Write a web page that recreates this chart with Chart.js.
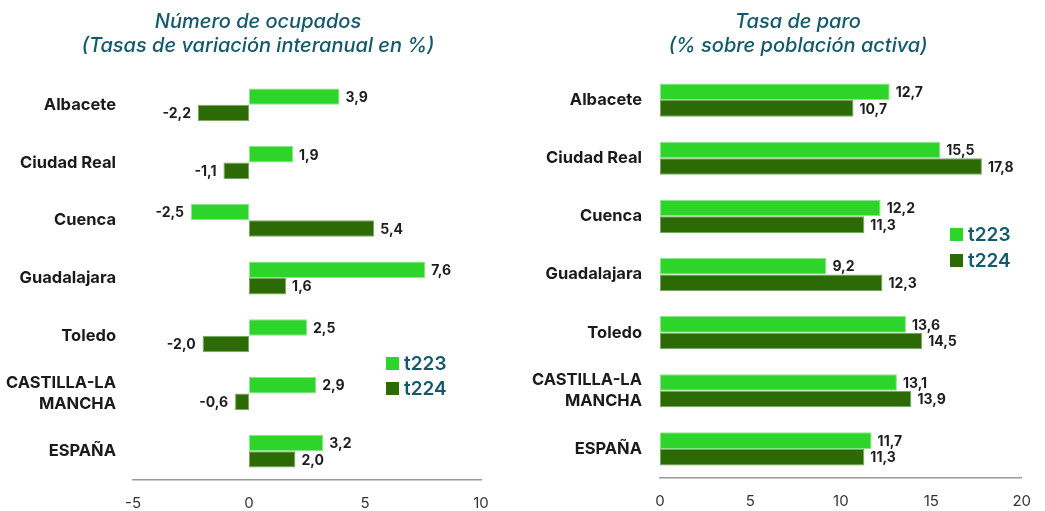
<!DOCTYPE html>
<html>
<head>
<meta charset="utf-8">
<script src="https://cdn.jsdelivr.net/npm/chart.js@4"></script>
<style>
  html, body { margin: 0; padding: 0; background: #fff; }
  #wrap { position: relative; width: 1045px; height: 511px; overflow: hidden; }
  #wrap canvas { position: absolute; top: 0; }
</style>
</head>
<body>
<div id="wrap">
  <canvas id="ocupados" width="520" height="511" style="left:0"></canvas>
  <canvas id="paro" width="525" height="511" style="left:520px"></canvas>
</div>
<script>
// datos
const provincias = ['Albacete', 'Ciudad Real', 'Cuenca', 'Guadalajara', 'Toledo', ['CASTILLA-LA', 'MANCHA'], 'ESPAÑA'];
const trimestres = ['t223', 't224'];

const ocupadosT223 = [3.9, 1.9, -2.5, 7.6, 2.5, 2.9, 3.2];
const ocupadosT224 = [-2.2, -1.1, 5.4, 1.6, -2.0, -0.6, 2.0];
const ocupadosTicks = [-5, 0, 5, 10];

const paroT223 = [12.7, 15.5, 12.2, 9.2, 13.6, 13.1, 11.7];
const paroT224 = [10.7, 17.8, 11.3, 12.3, 14.5, 13.9, 11.3];
const paroTicks = [0, 5, 10, 15, 20];

const VERDE_CLARO = '#2dd42a';
const VERDE_OSCURO = '#2b6a04';
const TEAL = '#11596b';
const FUENTE = 'Inter, "Noto Sans", sans-serif';

// etiquetas de valor junto a cada barra (formato con coma)
const etiquetasValor = {
  id: 'etiquetasValor',
  afterDatasetsDraw(chart) {
    const ctx = chart.ctx;
    ctx.save();
    ctx.font = `bold 14px ${FUENTE}`;
    ctx.fillStyle = '#1e1e1e';
    ctx.textBaseline = 'middle';
    chart.data.datasets.forEach((ds, i) => {
      const meta = chart.getDatasetMeta(i);
      meta.data.forEach((bar, j) => {
        const v = ds.data[j];
        const txt = v.toFixed(1).replace('.', ',');
        if (v >= 0) {
          ctx.textAlign = 'left';
          ctx.fillText(txt, bar.x + 6, bar.y + 1);
        } else {
          ctx.textAlign = 'right';
          ctx.fillText(txt, bar.x - 7, bar.y + 1);
        }
      });
    });
    ctx.restore();
  }
};

// leyenda propia dentro del área del gráfico
const leyendaCaja = {
  id: 'leyendaCaja',
  afterDraw(chart, args, opts) {
    const ctx = chart.ctx;
    ctx.save();
    ctx.font = `600 19px ${FUENTE}`;
    ctx.textBaseline = 'middle';
    ctx.textAlign = 'left';
    chart.data.datasets.forEach((ds, i) => {
      const y = opts.y + i * opts.gap;
      ctx.fillStyle = ds.backgroundColor;
      ctx.fillRect(opts.x, y - 6, 13, 13);
      ctx.fillStyle = TEAL;
      ctx.fillText(ds.label, opts.x + 18, y + 1);
    });
    ctx.restore();
  }
};

// título en dos líneas, centrado donde queremos (el de Chart.js recorta las etiquetas)
const tituloCentrado = {
  id: 'tituloCentrado',
  afterDraw(chart, args, opts) {
    const ctx = chart.ctx;
    ctx.save();
    ctx.font = `italic 500 20px ${FUENTE}`;
    ctx.fillStyle = TEAL;
    ctx.textAlign = 'center';
    ctx.textBaseline = 'middle';
    opts.lineas.forEach((t, i) => ctx.fillText(t, opts.cx, opts.y + i * 24));
    ctx.restore();
  }
};

function crearGrafico(id, titulo, serieA, serieB, ticks, cfg) {
  new Chart(document.getElementById(id), {
    type: 'bar',
    data: {
      labels: provincias,
      datasets: [
        { label: trimestres[0], data: serieA, backgroundColor: VERDE_CLARO, borderColor: '#8ee58a', borderWidth: 1, borderSkipped: false },
        { label: trimestres[1], data: serieB, backgroundColor: VERDE_OSCURO, borderColor: '#78a860', borderWidth: 1, borderSkipped: false }
      ]
    },
    options: {
      indexAxis: 'y',
      responsive: false,
      animation: false,
      layout: { padding: { left: 0, top: cfg.padTop, right: cfg.padRight } },
      datasets: { bar: { barPercentage: 1, categoryPercentage: 0.57 } },
      scales: {
        x: {
          min: ticks[0],
          max: ticks[ticks.length - 1],
          afterBuildTicks: axis => { axis.ticks = ticks.map(v => ({ value: v })); },
          afterFit: axis => { axis.height = cfg.xHeight; },
          grid: { display: false, drawTicks: false },
          border: { display: true, color: '#9a9a9a', width: 1.5 },
          ticks: { color: '#333', padding: 14, font: { family: FUENTE, size: 15 } }
        },
        y: {
          afterFit: axis => { axis.width = cfg.yWidth; },
          grid: { display: false, drawTicks: false },
          border: { display: false },
          ticks: { color: '#1a1a1a', padding: cfg.yPad, font: { family: FUENTE, size: 16.5, weight: 'bold', lineHeight: 1.3 } }
        }
      },
      plugins: {
        legend: { display: false },
        tooltip: { enabled: false },
        title: { display: false },
        tituloCentrado: { lineas: titulo, cx: cfg.tituloX, y: 22 },
        leyendaCaja: cfg.leyenda
      }
    },
    plugins: [etiquetasValor, leyendaCaja, tituloCentrado]
  });
}

crearGrafico('ocupados', ['Número de ocupados', '(Tasas de variación interanual en %)'],
  ocupadosT223, ocupadosT224, ocupadosTicks,
  { yWidth: 133, yPad: 17, xHeight: 31, padTop: 76, padRight: 39, tituloX: 258, leyenda: { x: 386, y: 363, gap: 25 } });

crearGrafico('paro', ['Tasa de paro', '(% sobre población activa)'],
  paroT223, paroT224, paroTicks,
  { yWidth: 140, yPad: 18, xHeight: 33, padTop: 71, padRight: 13, tituloX: 278, leyenda: { x: 430, y: 234, gap: 26 } });
</script>
</body>
</html>
